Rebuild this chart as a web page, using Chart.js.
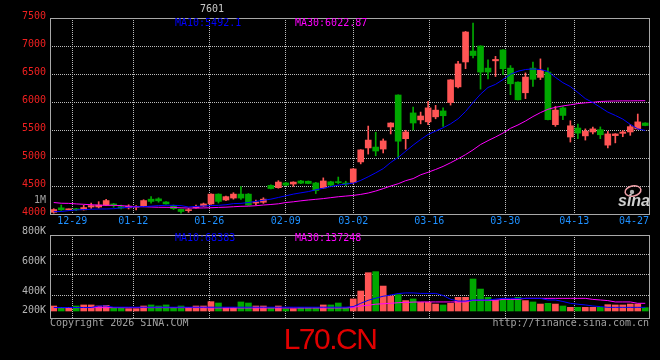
<!DOCTYPE html>
<html>
<head>
<meta charset="utf-8">
<title>K</title>
<script src="https://cdn.jsdelivr.net/npm/chart.js@4.4.1/dist/chart.umd.min.js"></script>
<style>
  html, body { margin: 0; padding: 0; background: #000; }
  #box { position: relative; width: 660px; height: 360px; background: #000; overflow: hidden; }
  #price { position: absolute; left: 0; top: 0; }
  #vol { position: absolute; left: 0; top: 226px; }
  #brand { position: absolute; left: 0; top: 324px; width: 660px; text-align: center;
           font: 30px/30px "Liberation Sans", Arial, sans-serif; letter-spacing: -1.5px; color: #e00000; }
</style>
</head>
<body>
<div id="box">
  <canvas id="price" width="660" height="226"></canvas>
  <canvas id="vol" width="660" height="134"></canvas>
  <div id="brand">L70.CN</div>
</div>
<script>
// trading days shown on the chart
const dates = ['12-24','12-25','12-26','12-29','12-30','12-31','01-05','01-06','01-07','01-08',
  '01-09','01-12','01-13','01-14','01-15','01-16','01-19','01-20','01-21','01-22',
  '01-23','01-26','01-27','01-28','01-29','01-30','02-02','02-03','02-04','02-05',
  '02-06','02-09','02-10','02-11','02-12','02-13','02-24','02-25','02-26','02-27',
  '03-02','03-03','03-04','03-05','03-06','03-09','03-10','03-11','03-12','03-13',
  '03-16','03-17','03-18','03-19','03-20','03-23','03-24','03-25','03-26','03-27',
  '03-30','03-31','04-01','04-02','04-03','04-07','04-08','04-09','04-10','04-13',
  '04-14','04-15','04-16','04-17','04-20','04-21','04-22','04-23','04-24','04-27'];

const open = [4030,4110,4075,4090,4075,4125,4125,4160,4180,4130, 4110,4120,4145,4265,4270,4215,4145,4085,4060,4110,
  4140,4180,4355,4250,4285,4355,4355,4195,4210,4510, 4470,4555,4535,4590,4585,4555,4465,4575,4570,4550,
  4565,4930,5180,5195,5160,5555,6125,5345,5805,5680, 5645,5735,5840,5990,6270,6715,6910,7000,6605,6735,
  6930,6605,6355,6165,6605,6440,6535,5595,5895,5375, 5535,5395,5465,5505,5230,5400,5440,5465,5520,5625];
const high = [4095,4160,4090,4100,4155,4195,4220,4260,4190,4160, 4165,4150,4255,4310,4290,4220,4160,4090,4100,4160,
  4195,4360,4360,4320,4380,4490,4365,4250,4290,4520, 4595,4565,4575,4600,4590,4565,4645,4585,4660,4585,
  4810,5150,5570,5460,5340,5630,6130,5495,5910,5820, 6010,5940,5895,6400,6725,7260,7410,7005,6755,6815,
  6935,6650,6360,6520,6715,6770,6610,5920,5920,5665, 5605,5520,5550,5555,5475,5435,5490,5595,5785,5630];
const low = [4015,4065,4070,4060,4070,4100,4105,4155,4120,4090, 4090,4075,4130,4195,4210,4175,4080,4015,4030,4105,
  4130,4170,4195,4240,4265,4260,4150,4160,4190,4450, 4460,4505,4495,4540,4540,4365,4460,4505,4540,4505,
  4540,4895,5070,5040,5090,5430,5000,5160,5500,5610, 5595,5700,5565,5945,6250,6595,6785,6230,6410,6455,
  6490,6130,6035,6060,6280,6400,5680,5565,5685,5285, 5345,5320,5430,5345,5180,5270,5380,5405,5515,5575];
const close = [4080,4075,4085,4075,4115,4150,4160,4240,4160,4105, 4140,4135,4240,4225,4235,4180,4095,4045,4075,4135,
  4180,4355,4225,4310,4355,4285,4160,4215,4265,4455, 4570,4515,4570,4550,4545,4420,4590,4515,4560,4535,
  4805,5145,5320,5125,5305,5625,5300,5465,5625,5750, 5895,5855,5755,6395,6680,7250,6830,6535,6535,6760,
  6595,6325,6040,6445,6405,6565,5685,5855,5760,5575, 5445,5480,5520,5415,5430,5430,5465,5560,5645,5580];

const ma10 = [4042,4045,4060,4072,4080,4085,4089,4090,4095,4110, 4119,4128,4131,4140,4150,4155,4155,4150,4125,4135,
  4143,4150,4155,4165,4185,4190,4205,4225,4245,4265, 4295,4325,4355,4378,4400,4432,4460,4490,4515,4535,
  4550,4600,4665,4735,4810,4920,5010,5120,5230,5330, 5420,5480,5540,5610,5700,5830,5990,6140,6260,6315,
  6400,6495,6550,6580,6590,6580,6545,6440,6345,6275, 6170,6060,5990,5905,5820,5760,5695,5600,5520,5492];
const ma30 = [4205,4192,4190,4180,4173,4165,4158,4155,4155,4150, 4138,4132,4130,4125,4120,4119,4118,4110,4107,4107,
  4108,4112,4118,4122,4130,4137,4140,4148,4160,4170, 4182,4205,4218,4235,4250,4262,4275,4292,4308,4320,
  4332,4350,4375,4410,4453,4500,4540,4595,4632,4700, 4745,4795,4850,4915,4985,5060,5145,5240,5310,5375,
  5445,5530,5590,5660,5740,5810,5870,5905,5930,5950, 5972,5985,5995,6010,6015,6018,6020,6020,6022,6023];

// volume, in thousands
const volume = [300,289,291,300,307,307,300,304,289,289, 282,282,300,307,300,307,291,300,289,300,
  300,329,320,289,289,327,320,300,300,289, 300,282,282,289,289,289,307,307,320,289,
  347,400,522,529,433,367,376,336,347,324, 324,313,307,318,358,358,480,413,358,340,
  349,344,358,336,327,313,318,313,300,291, 291,291,291,291,309,307,307,313,313,289];
const volMa10 = [290,290,290,290,290,290,300,300,292,292, 292,292,292,292,292,292,292,292,292,292,
  292,292,292,292,292,292,292,292,292,292, 292,292,292,292,292,292,292,292,292,292,
  296,318,338,352,365,373,383,387,387,384, 384,384,370,345,333,333,340,340,340,346,
  351,351,351,351,351,351,340,340,330,318, 312,307,300,296,291,291,291,291,291,291];
const volMa30 = [289,289,289,289,289,289,289,289,289,289, 289,289,289,289,289,289,289,289,289,289,
  289,287,287,287,287,287,287,287,287,287, 287,287,287,287,287,287,287,287,287,287,
  290,300,305,312,315,318,322,324,326,327, 327,327,327,327,327,327,338,338,338,338,
  344,344,344,351,351,351,351,351,351,351, 351,351,344,340,336,327,327,327,318,318];

const priceTicks = [4000, 4500, 5000, 5500, 6000, 6500, 7000, 7500];
const volGridAt = [373.33, 506.67, 640];
const volTickLabels = ['800K', '600K', '400K', '200K'];
const dateTicks = ['12-29', '01-12', '01-26', '02-09', '03-02', '03-16', '03-30', '04-13', '04-27'];
const dateTickAt = [2.48, 10.62, 20.78, 30.98, 40.0, 50.16, 60.3, 69.52, 77.5];
const priceLegend = ['MA10:5492.1', 'MA30:6022.87'];
const volLegend = ['MA10:68383', 'MA30:137248'];

const RED = '#ff5555';
const GREEN = '#00a800';
const BLUE = '#0000ff';
const PINK = '#ff00ff';
const GRID = '#bcbcbc';
const FRAME = '#a8a8a8';
const MONO = '"DejaVu Sans Mono", monospace';

const isUp = i => close[i] >= open[i];
const candleColor = c => isUp(c.dataIndex) ? RED : GREEN;
const pts = arr => arr.map((v, i) => ({ x: i, y: v }));
const last = dateTickAt.length - 1;

function xAxis(showLabels) {
  return {
    type: 'linear', min: -0.5, max: dates.length - 0.5, offset: false,
    afterBuildTicks: s => { s.ticks = dateTickAt.map(v => ({ value: v })); },
    ticks: {
      display: showLabels, autoSkip: false, maxRotation: 0, padding: 1,
      color: '#1e90ff', font: { family: MONO, size: 10 },
      callback: (v, i) => dateTicks[i]
    },
    grid: { offset: false, drawTicks: false, lineWidth: 1,
            color: c => c.index === last ? 'rgba(0,0,0,0)' : GRID },
    border: { display: false, dash: [1, 1] },
    afterFit: s => { s.height = showLabels ? 12 : 0; }
  };
}

function line(data, color) {
  return { type: 'line', data: pts(data), borderColor: color, borderWidth: 1,
           pointRadius: 0, tension: 0, order: 0 };
}

const frame = {
  id: 'frame',
  afterDraw(chart) {
    const { ctx, chartArea: a } = chart;
    ctx.save();
    ctx.strokeStyle = FRAME;
    ctx.lineWidth = 1;
    ctx.strokeRect(a.left + 0.5, a.top + 0.5, a.right - a.left, a.bottom - a.top);
    ctx.restore();
  }
};

const priceText = {
  id: 'priceText',
  afterDraw(chart) {
    const ctx = chart.ctx;
    ctx.save();
    ctx.font = '10px ' + MONO;
    ctx.textBaseline = 'middle';
    ctx.fillStyle = BLUE;
    ctx.fillText(priceLegend[0], 175, 23.5);
    ctx.fillStyle = PINK;
    ctx.fillText(priceLegend[1], 295, 23.5);
    ctx.fillStyle = '#c8c8c8';
    ctx.fillText('7601', 200, 9);
    ctx.textAlign = 'right';
    ctx.fillStyle = '#a0a0a0';
    ctx.fillText('1M', 46, 200);
    // sina logo
    ctx.strokeStyle = '#f0a0a8';
    ctx.lineWidth = 1.5;
    ctx.beginPath();
    ctx.ellipse(633, 191, 8, 5, -0.2, 0, Math.PI * 2);
    ctx.stroke();
    ctx.fillStyle = '#b0b0b0';
    ctx.beginPath();
    ctx.arc(632, 192, 2.2, 0, Math.PI * 2);
    ctx.fill();
    ctx.textAlign = 'left';
    ctx.textBaseline = 'alphabetic';
    ctx.font = 'italic bold 16px "Liberation Sans", Arial, sans-serif';
    ctx.fillStyle = '#d0d0d0';
    ctx.fillText('sina', 618, 206);
    ctx.restore();
  }
};

const volText = {
  id: 'volText',
  afterDraw(chart) {
    const ctx = chart.ctx;
    ctx.save();
    ctx.font = '10px ' + MONO;
    ctx.textBaseline = 'middle';
    ctx.fillStyle = BLUE;
    ctx.fillText(volLegend[0], 175, 12);
    ctx.fillStyle = PINK;
    ctx.fillText(volLegend[1], 295, 12);
    ctx.textAlign = 'right';
    ctx.fillStyle = '#b4b4b4';
    [5, 35, 65, 84].forEach((y, i) => ctx.fillText(volTickLabels[i], 46, y));
    ctx.fillStyle = '#a0a0a0';
    ctx.fillText('http://finance.sina.com.cn', 649, 97.5);
    ctx.textAlign = 'left';
    ctx.fillText('Copyright 2026 SINA.COM', 50, 97.5);
    ctx.restore();
  }
};

const common = {
  responsive: false, animation: false, devicePixelRatio: 1, events: [],
  plugins: { legend: { display: false }, tooltip: { enabled: false } }
};

new Chart(document.getElementById('price'), {
  type: 'bar',
  data: {
    datasets: [
      line(ma10, BLUE),
      line(ma30, PINK),
      { type: 'bar', data: dates.map((d, i) => ({ x: i, y: [open[i], close[i]] })),
        backgroundColor: candleColor, barThickness: 6, minBarLength: 1, grouped: false, order: 1 },
      { type: 'bar', data: dates.map((d, i) => ({ x: i, y: [low[i], high[i]] })),
        backgroundColor: candleColor, barThickness: 1, grouped: false, order: 2 }
    ]
  },
  options: Object.assign({}, common, {
    layout: { autoPadding: false, padding: { top: 18, right: 11, bottom: 0, left: 0 } },
    scales: {
      x: xAxis(true),
      y: {
        type: 'linear', min: 4000, max: 7500,
        afterBuildTicks: s => { s.ticks = priceTicks.map(v => ({ value: v })); },
        ticks: { color: '#f02020', font: { family: MONO, size: 10 }, padding: 4, labelOffset: -1.5,
                 callback: v => String(v) },
        grid: { color: GRID, drawTicks: false },
        border: { display: false, dash: [1, 1] },
        afterFit: s => { s.width = 50; }
      }
    }
  }),
  plugins: [frame, priceText]
});

new Chart(document.getElementById('vol'), {
  type: 'bar',
  data: {
    datasets: [
      line(volMa10, BLUE),
      line(volMa30, PINK),
      { type: 'bar', data: pts(volume), base: 266.67, backgroundColor: candleColor,
        barThickness: 6, grouped: false, order: 1 }
    ]
  },
  options: Object.assign({}, common, {
    layout: { autoPadding: false, padding: { top: 9, right: 11, bottom: 42, left: 0 } },
    scales: {
      x: xAxis(false),
      y: {
        type: 'linear', min: 220, max: 773.33,
        afterBuildTicks: s => { s.ticks = volGridAt.map(v => ({ value: v })); },
        ticks: { display: false },
        grid: { color: GRID, drawTicks: false },
        border: { display: false, dash: [1, 1] },
        afterFit: s => { s.width = 50; }
      }
    }
  }),
  plugins: [frame, volText]
});
</script>
</body>
</html>
